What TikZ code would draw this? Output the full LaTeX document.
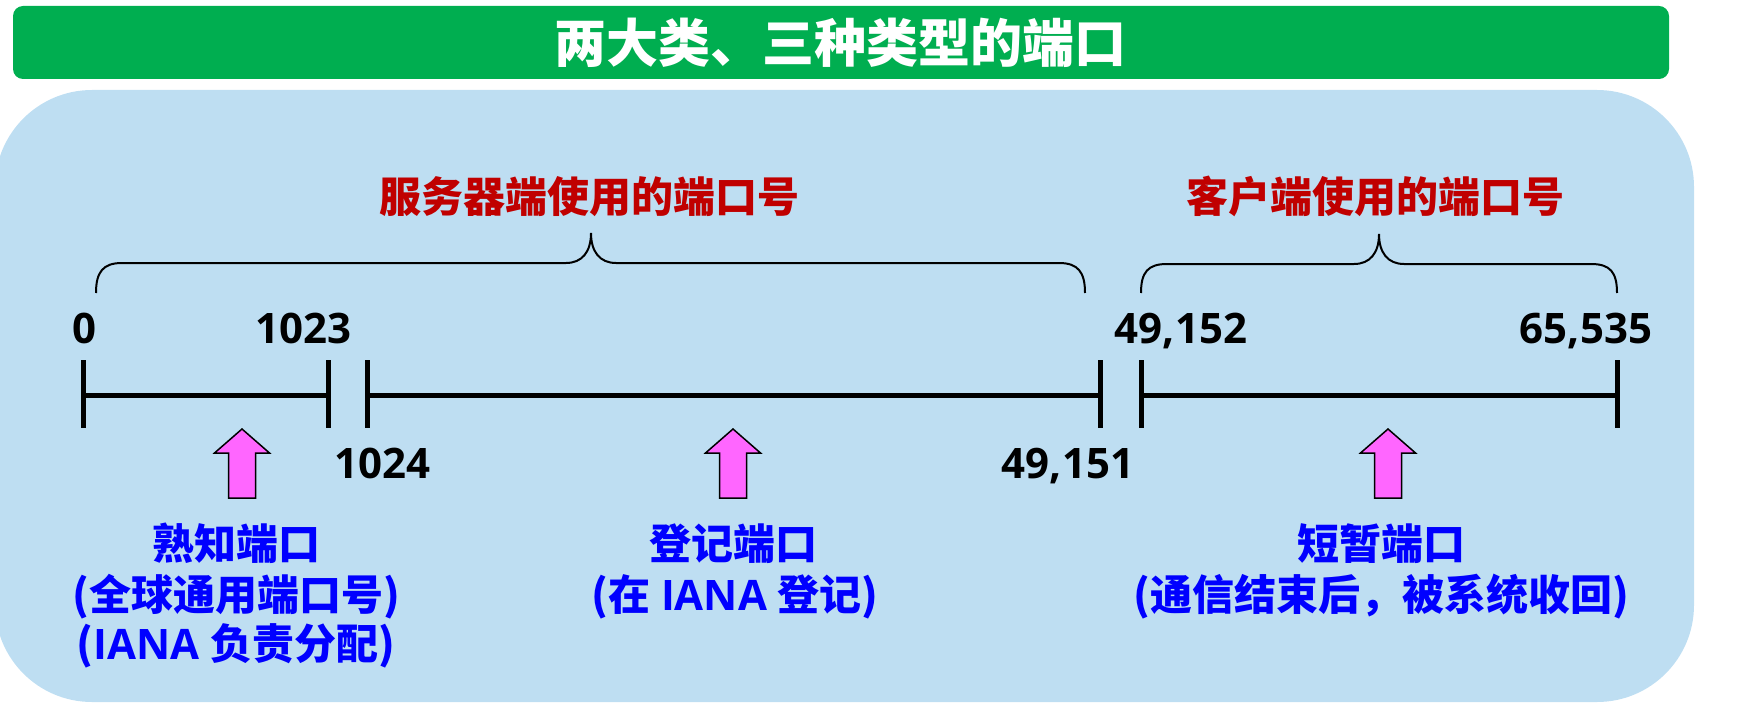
\documentclass[tikz,border=0pt]{standalone}
\usepackage{fontspec}
\newfontfamily\cjk{Noto Sans CJK SC}
\newfontfamily\numf{Open Sans}
\definecolor{bgblue}{RGB}{190,222,242}
\definecolor{titlegreen}{RGB}{0,174,80}
\definecolor{darkred}{RGB}{192,0,0}
\definecolor{labblue}{RGB}{0,0,255}
\definecolor{pinkarrow}{RGB}{255,102,255}
\newcommand\latin[1]{{\numf\bfseries #1}}
\tikzset{
  titletext/.style={anchor=base, inner sep=0pt, text=white, font=\cjk\bfseries\fontsize{52pt}{60pt}\selectfont},
  rangetext/.style={anchor=base, inner sep=0pt, text=darkred, font=\cjk\bfseries\fontsize{42pt}{50pt}\selectfont},
  numtext/.style={anchor=base, inner sep=0pt, text=black, font=\numf\bfseries\fontsize{42pt}{50pt}\selectfont},
  kindtext/.style={anchor=base, inner sep=0pt, text=labblue, font=\cjk\bfseries\fontsize{42pt}{50pt}\selectfont},
  axis/.style={line width=5pt, black},
  bracepath/.style={line width=2pt, black},
  blockarrow/.style={fill=pinkarrow, draw=black, line width=1.5pt, line join=miter}
}
\begin{document}
\begin{tikzpicture}[x=1pt,y=-1pt]
\clip (0,0) rectangle (1742,722);
% title bar
\fill[titlegreen, rounded corners=10pt] (13,6) rectangle (1669,79);
\node[titletext] (title) at (840,63) {两大类、三种类型的端口};
% background panel
\fill[bgblue, rounded corners=97pt] (-5,90) rectangle (1694,702);

% range labels
\node[rangetext] (server) at (589,212) {服务器端使用的端口号};
\node[rangetext] (client) at (1375,212) {客户端使用的端口号};

% braces
\coordinate (b1l) at (96,293);
\coordinate (b1t) at (591,233);
\coordinate (b1r) at (1085,293);
\draw[bracepath] (b1l) .. controls (96,272) and (103,263) .. (122,263) -- (566,263)
  .. controls (582,263) and (591,252) .. (b1t)
  .. controls (591,252) and (600,263) .. (616,263) -- (1059,263)
  .. controls (1078,263) and (1085,272) .. (b1r);
\coordinate (b2l) at (1141,293);
\coordinate (b2t) at (1379,234);
\coordinate (b2r) at (1617,293);
\draw[bracepath] (b2l) .. controls (1141,272) and (1148,264) .. (1167,264) -- (1354,264)
  .. controls (1370,264) and (1379,253) .. (b2t)
  .. controls (1379,253) and (1388,264) .. (1404,264) -- (1591,264)
  .. controls (1610,264) and (1617,272) .. (b2r);

% axis coordinates
\coordinate (t0) at (83,395);
\coordinate (t1023) at (328,395);
\coordinate (t1024) at (367,395);
\coordinate (t49151) at (1100,395);
\coordinate (t49152) at (1141,395);
\coordinate (t65535) at (1617,395);
\draw[axis] (t0) -- (t1023);
\draw[axis] (t1024) -- (t49151);
\draw[axis] (t49152) -- (t65535);
\foreach \t in {t0,t1023,t1024,t49151,t49152,t65535}{
  \draw[axis] (\t) ++(0,-35) -- ++(0,68);
}

% numbers
\node[numtext] (n0) at (84,343) {0};
\node[numtext] (n1023) at (303,343) {1023};
\node[numtext] (n1024) at (382,478) {1024};
\node[numtext] (n49151) at (1068,478) {49,151};
\node[numtext] (n49152) at (1181,343) {49,152};
\node[numtext] (n65535) at (1586,343) {65,535};

% pink block arrows
\foreach \c/\nm in {242/a1,733/a2,1388/a3}{
  \draw[blockarrow] (\c,429) -- (\c+27.5,453) -- (\c+13.5,453) -- (\c+13.5,498)
    -- (\c-13.5,498) -- (\c-13.5,453) -- (\c-27.5,453) -- cycle;
  \coordinate (\nm) at (\c,429);
}

% kind labels
\node[kindtext] (k1a) at (236,559) {熟知端口};
\node[kindtext] (k1b) at (236,610) {(全球通用端口号)};
\node[kindtext] (k1c) at (236,659) {(\latin{IANA }负责分配)};
\node[kindtext] (k2a) at (733,559) {登记端口};
\node[kindtext] (k2b) at (735,610) {(在\latin{ IANA }登记)};
\node[kindtext] (k3a) at (1381,559) {短暂端口};
\node[kindtext] (k3b) at (1381,610) {(通信结束后，被系统收回)};
\end{tikzpicture}
\end{document}
